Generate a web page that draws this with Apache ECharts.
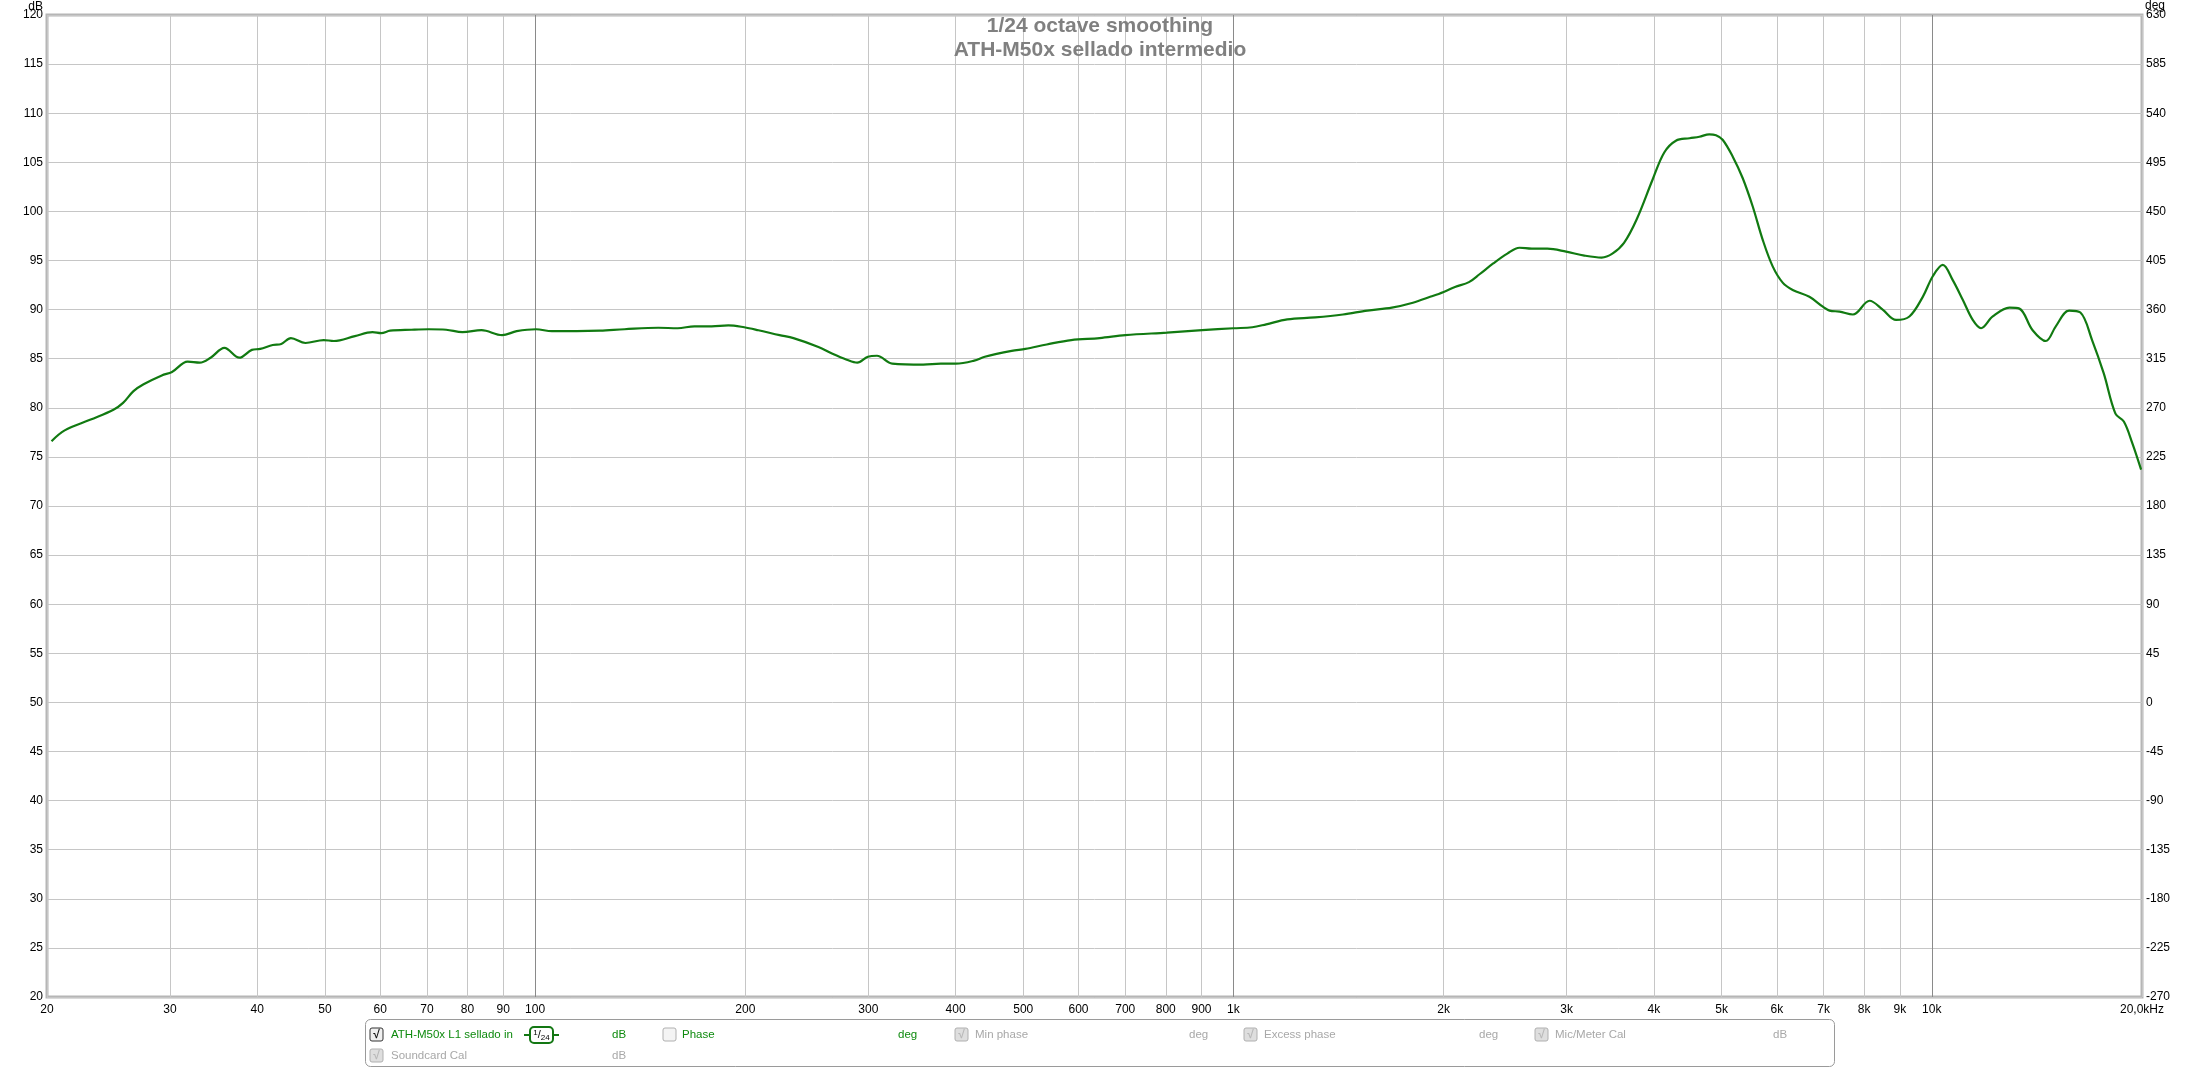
<!DOCTYPE html>
<html>
<head>
<meta charset="utf-8">
<title>ATH-M50x sellado intermedio</title>
<script src="https://cdn.jsdelivr.net/npm/echarts@6.0.0/dist/echarts.min.js"></script>
<style>
  html, body { margin: 0; padding: 0; background: #fff; }
  #chart { width: 2200px; height: 1069px; }
</style>
</head>
<body>
<div id="chart"></div>
<script>
// frequency response (Hz / dB)
const freqs = [
  20.3, 21.2, 23.1, 24.9, 25.7, 26.6, 27.5, 29.2, 30.2, 31.8,
  33.1, 34.3, 35.9, 37.7, 39.3, 40.4, 42.1, 43.3, 44.7, 46.9,
  49.8, 51.5, 55.2, 58.5, 60.2, 62.0, 66.5, 70.4, 74.6, 78.7,
  83.8, 89.7, 94.1, 100.3, 105.7, 114.7, 123.9, 134.3, 150.1, 160.0,
  169.1, 179.0, 189.1, 199.3, 208.8, 223.9, 234.4, 254.5, 266.6, 279.4,
  289.3, 299.6, 308.7, 324.6, 359.7, 381.1, 400.4, 425.3, 440.5, 481.3,
  503.6, 540.3, 585.8, 643.1, 700.2, 803, 902, 1000, 1064, 1114,
  1194, 1309, 1435, 1555, 1686, 1807, 1913, 2000, 2076, 2174,
  2251, 2355, 2467, 2568, 2674, 2815, 2995, 3180, 3367, 3488,
  3625, 3780, 3981, 4139, 4301, 4498, 4647, 4802, 4909, 5018,
  5186, 5360, 5541, 5727, 5918, 6116, 6322, 6679, 6982, 7138,
  7378, 7709, 8146, 8505, 8890, 9289, 9708, 10033, 10369, 10716,
  11075, 11446, 11764, 12227, 12918, 13350, 13944, 14565, 15052, 15723,
  16324, 16964, 17631, 18323, 18837, 19370, 19941
];
const spl = [
  76.6, 77.7, 78.8, 79.8, 80.5, 81.7, 82.4, 83.3, 83.65, 84.7,
  84.6, 85.1, 86.1, 85.1, 85.9, 86.0, 86.4, 86.5, 87.1, 86.6,
  86.9, 86.8, 87.3, 87.7, 87.6, 87.85, 87.95, 88.0, 87.95, 87.7,
  87.9, 87.4, 87.8, 88.0, 87.8, 87.8, 87.85, 88.0, 88.15, 88.1,
  88.3, 88.3, 88.4, 88.2, 87.9, 87.4, 87.1, 86.2, 85.5, 84.9,
  84.6, 85.2, 85.3, 84.5, 84.4, 84.5, 84.5, 84.8, 85.2, 85.8,
  86.0, 86.45, 86.9, 87.1, 87.4, 87.66, 87.9, 88.1, 88.2, 88.5,
  89.0, 89.2, 89.5, 89.9, 90.2, 90.7, 91.3, 91.8, 92.3, 92.8,
  93.6, 94.7, 95.7, 96.3, 96.2, 96.2, 95.9, 95.5, 95.3, 95.7,
  96.8, 99.2, 103.2, 106.0, 107.2, 107.45, 107.6, 107.85, 107.75, 107.3,
  105.6, 103.4, 100.5, 97.1, 94.4, 92.75, 92.0, 91.3, 90.3, 89.9,
  89.8, 89.5, 90.9, 90.0, 88.95, 89.3, 91.3, 93.4, 94.55, 93.0,
  91.0, 88.95, 88.1, 89.3, 90.2, 90.1, 87.9, 86.8, 88.3, 89.9,
  89.7, 86.9, 83.5, 79.4, 78.6, 76.4, 73.7
];
const xTicks = [
  20, 30, 40, 50, 60, 70, 80, 90,
  100, 200, 300, 400, 500, 600, 700, 800, 900,
  1000, 2000, 3000, 4000, 5000, 6000, 7000, 8000, 9000,
  10000, 20000
];
const decades = [100, 1000, 10000];

const titleLines = ['1/24 octave smoothing', 'ATH-M50x sellado intermedio'];

let mycharts = echarts.init(document.getElementById('chart'));

const FONT = '"Liberation Sans", Arial, sans-serif';
const GREEN = '#0e8a0e';
const GREY = '#a8a8a8';

// checkbox like the REW legend ones
function checkbox(x, y, state) {
  let items = [{
    type: 'rect',
    shape: { x: x, y: y, width: 13, height: 13, r: 2 },
    style: {
      fill: state === 'off' ? '#f4f4f4' : (state === 'on' ? '#f0f0f0' : '#dedede'),
      stroke: state === 'on' ? '#333' : '#b0b0b0',
      lineWidth: 1
    }
  }];
  if (state !== 'off') {
    items.push({
      type: 'text',
      style: {
        x: x + 6.5, y: y + 6.5, text: '√', align: 'center', verticalAlign: 'middle',
        font: 'bold 12px ' + FONT, fill: state === 'on' ? '#111' : '#b8b8b8'
      }
    });
  }
  return items;
}
function label(x, y, text, color) {
  return {
    type: 'text',
    style: { x: x, y: y, text: text, verticalAlign: 'middle', font: '11.5px ' + FONT, fill: color }
  };
}

const row1 = 1035, row2 = 1056;
let legend = [
  {
    type: 'rect',
    shape: { x: 365.5, y: 1019.5, width: 1469, height: 47, r: 5 },
    style: { fill: '#fff', stroke: '#9a9a9a', lineWidth: 1 }
  },
  ...checkbox(370, row1 - 7, 'on'),
  label(391, row1, 'ATH-M50x L1 sellado in', GREEN),
  {
    type: 'line',
    shape: { x1: 524, y1: row1, x2: 559, y2: row1 },
    style: { stroke: '#137713', lineWidth: 2 }
  },
  {
    type: 'rect',
    shape: { x: 530, y: row1 - 8, width: 23, height: 16, r: 4 },
    style: { fill: '#fff', stroke: '#137713', lineWidth: 2 }
  },
  {
    type: 'text',
    style: {
      x: 541.5, y: row1, text: '{a|1}{b|/}{c|24}', align: 'center', verticalAlign: 'middle',
      rich: {
        a: { font: '8px ' + FONT, fill: '#000', verticalAlign: 'top', padding: [0, 0, 5, 0] },
        b: { font: '11px ' + FONT, fill: '#000' },
        c: { font: '8px ' + FONT, fill: '#000', padding: [5, 0, 0, 0] }
      }
    }
  },
  label(612, row1, 'dB', GREEN),
  ...checkbox(663, row1 - 7, 'off'),
  label(682, row1, 'Phase', GREEN),
  label(898, row1, 'deg', GREEN),
  ...checkbox(955, row1 - 7, 'dim'),
  label(975, row1, 'Min phase', GREY),
  label(1189, row1, 'deg', GREY),
  ...checkbox(1244, row1 - 7, 'dim'),
  label(1264, row1, 'Excess phase', GREY),
  label(1479, row1, 'deg', GREY),
  ...checkbox(1535, row1 - 7, 'dim'),
  label(1555, row1, 'Mic/Meter Cal', GREY),
  label(1773, row1, 'dB', GREY),
  ...checkbox(370, row2 - 7, 'dim'),
  label(391, row2, 'Soundcard Cal', GREY),
  label(612, row2, 'dB', GREY),
  // axis units
  {
    type: 'text',
    style: { x: 43, y: 7, text: 'dB', align: 'right', verticalAlign: 'middle', font: '12px ' + FONT, fill: '#000' }
  },
  {
    type: 'text',
    style: { x: 2145, y: 6, text: 'deg', align: 'left', verticalAlign: 'middle', font: '12px ' + FONT, fill: '#000' }
  }
];

mycharts.setOption({
  animation: false,
  backgroundColor: '#fff',
  title: {
    text: titleLines.join('\n'),
    left: 'center',
    top: 14,
    padding: 0,
    textStyle: {
      color: '#808080',
      fontFamily: FONT,
      fontWeight: 'bold',
      fontSize: 21,
      lineHeight: 24
    }
  },
  grid: {
    left: 47,
    right: 58,
    top: 15,
    bottom: 72,
    show: true,
    borderColor: '#b6b6b6',
    borderWidth: 3
  },
  xAxis: {
    type: 'log',
    logBase: 10,
    min: 20,
    max: 20000,
    axisLine: { show: false },
    axisTick: { show: false, customValues: xTicks },
    axisLabel: {
      customValues: xTicks,
      margin: 7,
      color: '#000',
      fontFamily: FONT,
      fontSize: 12,
      formatter: function (v) {
        if (v >= 20000) return '20,0kHz';
        if (v >= 1000) return (v / 1000) + 'k';
        return String(v);
      }
    },
    splitLine: {
      show: true,
      lineStyle: {
        width: 1,
        color: xTicks.map(v => decades.includes(v) ? '#8a8a8a' : '#c6c6c6')
      }
    }
  },
  yAxis: [
    {
      type: 'value',
      position: 'left',
      min: 20,
      max: 120,
      interval: 5,
      axisLine: { show: false },
      axisTick: { show: false },
      axisLabel: { margin: 4, color: '#000', fontFamily: FONT, fontSize: 12 },
      splitLine: { show: true, lineStyle: { color: '#c6c6c6', width: 1 } }
    },
    {
      type: 'value',
      position: 'right',
      min: -270,
      max: 630,
      interval: 45,
      axisLine: { show: false },
      axisTick: { show: false },
      axisLabel: { margin: 4, color: '#000', fontFamily: FONT, fontSize: 12 },
      splitLine: { show: false }
    }
  ],
  series: [
    {
      name: 'ATH-M50x L1 sellado in',
      type: 'line',
      data: freqs.map((f, i) => [f, spl[i]]),
      smooth: 0.35,
      showSymbol: false,
      lineStyle: { color: '#117a11', width: 2.2 },
      z: 5
    }
  ],
  graphic: legend
});
</script>
</body>
</html>
